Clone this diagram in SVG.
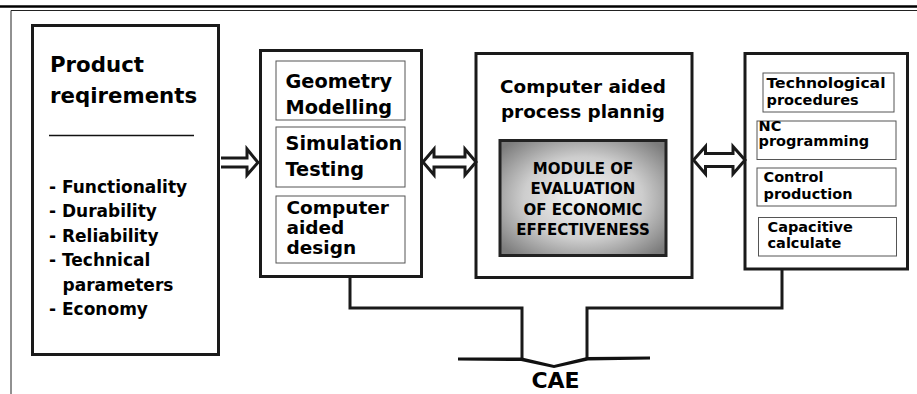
<svg xmlns="http://www.w3.org/2000/svg" width="917" height="394" viewBox="0 0 917 394">
<defs>
<radialGradient id="g" cx="50%" cy="50%" r="65%">
<stop offset="0" stop-color="#f6f6f6"/>
<stop offset="0.55" stop-color="#cdcdcd"/>
<stop offset="1" stop-color="#7c7c7c"/>
</radialGradient>
<style>
.box{fill:#fff;stroke:#1a1a1a;stroke-width:3}
.inner{fill:#fff;stroke:#555;stroke-width:1}
.heavy{font-family:"DejaVu Sans","Liberation Sans",sans-serif;font-weight:bold;fill:#000}
.arr{fill:#fff;stroke:#1a1a1a;stroke-width:3;stroke-linejoin:miter}
.con{fill:none;stroke:#1a1a1a;stroke-width:3}
</style>
</defs>
<rect x="0" y="0" width="917" height="394" fill="#fff"/>
<line x1="0" y1="6.5" x2="917" y2="6.5" stroke="#000" stroke-width="2.5"/>
<polyline points="11,394 11,10.5 917,10.5" fill="none" stroke="#222" stroke-width="1"/>

<g id="product">
<rect class="box" x="32.5" y="25.5" width="186" height="329"/>
<text class="heavy" x="50" y="72" font-size="21.3">Product</text>
<text class="heavy" x="50" y="103" font-size="21.3">reqirements</text>
<line x1="49" y1="135.5" x2="194" y2="135.5" stroke="#111" stroke-width="1.5"/>
<g class="heavy" font-size="17">
<text x="49" y="193">- Functionality</text>
<text x="49" y="217">- Durability</text>
<text x="49" y="241.5">- Reliability</text>
<text x="49" y="266">- Technical</text>
<text x="62.5" y="290.5">parameters</text>
<text x="49" y="315">- Economy</text>
</g>
</g>

<g id="cad">
<rect class="box" x="260.5" y="50.5" width="161" height="226"/>
<rect class="inner" x="276" y="61" width="129" height="59"/>
<rect class="inner" x="276" y="127" width="129" height="60"/>
<rect class="inner" x="276" y="196" width="129" height="67"/>
<g class="heavy" font-size="19.3">
<text x="285.5" y="88">Geometry</text>
<text x="285.5" y="114">Modelling</text>
<text x="285.5" y="150">Simulation</text>
<text x="285.5" y="176">Testing</text>
</g>
<g class="heavy" font-size="18.5">
<text x="286.5" y="214">Computer</text>
<text x="286.5" y="234">aided</text>
<text x="286.5" y="254">design</text>
</g>
</g>

<g id="capp">
<rect class="box" x="476" y="53.5" width="216" height="224"/>
<text class="heavy" x="583" y="92.5" font-size="18.4" text-anchor="middle">Computer aided</text>
<text class="heavy" x="583" y="117.5" font-size="18.4" text-anchor="middle">process plannig</text>
<rect x="500" y="140.5" width="166" height="115" fill="url(#g)" stroke="#222" stroke-width="3"/>
<g class="heavy" font-size="15" text-anchor="middle">
<text x="583" y="173.5">MODULE OF</text>
<text x="583" y="193.5">EVALUATION</text>
<text x="583" y="215">OF ECONOMIC</text>
<text x="583" y="235">EFFECTIVENESS</text>
</g>
</g>

<g id="manufacturing">
<rect class="box" x="745" y="53.5" width="162.5" height="215.5"/>
<rect class="inner" x="763" y="73" width="131" height="39"/>
<rect class="inner" x="757" y="121" width="139" height="38.5"/>
<rect class="inner" x="757" y="168" width="139" height="38"/>
<rect class="inner" x="758.5" y="217.5" width="138" height="38.5"/>
<g class="heavy" font-size="14.5">
<text x="766.5" y="88" textLength="119" lengthAdjust="spacingAndGlyphs">Technological</text>
<text x="766.5" y="104.5">procedures</text>
<text x="758.5" y="131">NC</text>
<text x="758.5" y="146">programming</text>
<text x="763.5" y="182">Control</text>
<text x="763.5" y="199">production</text>
<text x="767.5" y="231.5">Capacitive</text>
<text x="767.5" y="248">calculate</text>
</g>
</g>

<g id="connectors">
<path class="arr" d="M221,158 L247,158 L247,149 L258,162.5 L247,175 L247,167 L221,167"/>
<path class="arr" d="M423,162 L434,149 L434,157 L465,157 L465,149 L476,162 L465,175 L465,167 L434,167 L434,175 Z"/>
<path class="arr" d="M693.5,160 L705.5,146.5 L705.5,153.5 L733,153.5 L733,146.5 L745,160 L733,174 L733,166.5 L705.5,166.5 L705.5,174 Z"/>
<polyline class="con" points="350,277 350,308 522,308 522,359"/>
<polyline class="con" points="782,269 782,308 587,308 587,359"/>
<path d="M458,357.5 L522,357.5 L554,365 L587,357 L650,356.5 L650,359.5 L588,360.5 L554,368 L521,361 L458,360.5 Z" fill="#111"/>
<text class="heavy" x="555.5" y="388" font-size="22" text-anchor="middle">CAE</text>
</g>
</svg>
